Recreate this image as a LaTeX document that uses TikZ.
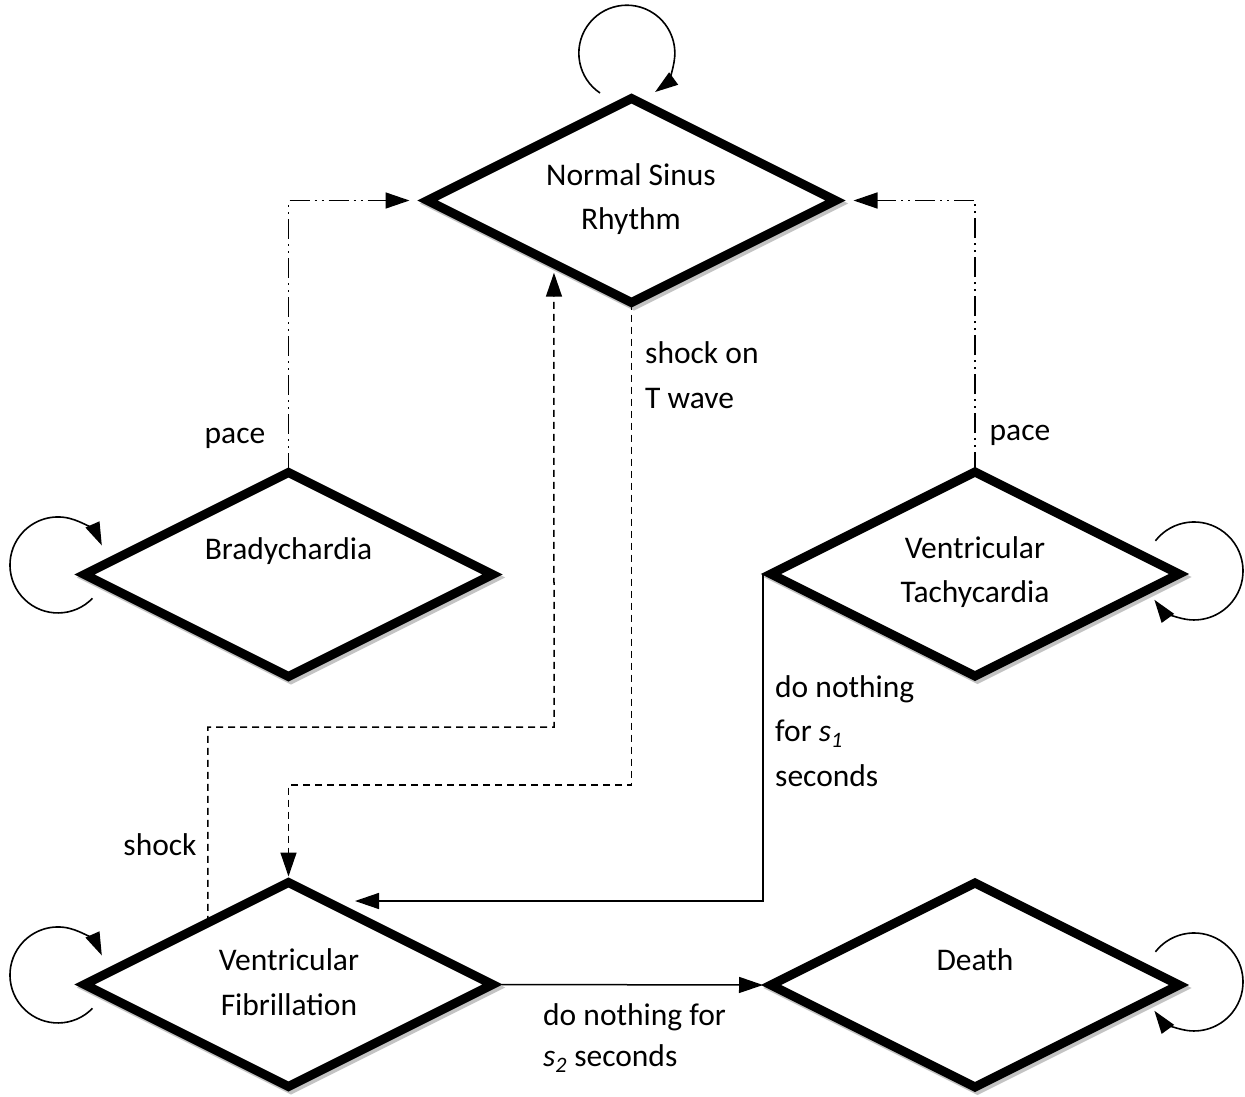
\documentclass[tikz,border=0pt]{standalone}
\usepackage{fontspec}
\setmainfont{Carlito}
\usetikzlibrary{shapes.geometric,arrows.meta,calc}
\definecolor{shadowgray}{RGB}{195,195,195}
\tikzset{
  state/.style={diamond, draw=black, line width=9pt, fill=white,
    minimum width=408pt, minimum height=204pt, inner sep=0pt, outer sep=0pt, shape aspect=2},
  stateshadow/.style={diamond, draw=shadowgray, fill=shadowgray, line width=9pt,
    minimum width=408pt, minimum height=204pt, inner sep=0pt, outer sep=0pt, shape aspect=2},
  txt/.style={font=\fontsize{31.5}{44.5}\selectfont, align=center, inner sep=0pt},
  txtl/.style={font=\fontsize{31.5}{44.5}\selectfont, align=left, inner sep=0pt, anchor=west},
  tip/.style={-{Triangle[length=24pt,width=16pt]}},
  paceline/.style={tip, line width=1.5pt, dash pattern=on 20pt off 5pt on 2pt off 5pt on 2pt off 5pt},
  shockline/.style={tip, line width=1.5pt, dash pattern=on 7pt off 5pt},
  solidline/.style={tip, line width=1.5pt},
  loopline/.style={-{Triangle[length=23pt,width=15pt]}, line width=1.6pt}
}
\begin{document}
\begin{tikzpicture}[x=1pt,y=-1pt]
\useasboundingbox[fill=white] (0,0) rectangle (1245,1097);
% shadows
\node[stateshadow] (nsrsh) at (634,203.5) {};
\node[stateshadow] (bradysh) at (291,577.5) {};
\node[stateshadow] (vtsh) at (977.5,577) {};
\node[stateshadow] (vfsh) at (291,987.5) {};
\node[stateshadow] (deathsh) at (977.5,988) {};
% states
\node[state] (nsr) at (631.5,200.5) {};
\node[state] (brady) at (288.5,574.5) {};
\node[state] (vt) at (975,574) {};
\node[state] (vf) at (288.5,984.5) {};
\node[state] (death) at (975,985) {};
% state texts
\node[txt] (nsrlab) at (631,199) {Normal Sinus\\Rhythm};
\node[txt] (bradylab) at (288.5,551) {Bradychardia};
\node[txt] (vtlab) at (975,572) {Ventricular\\Tachycardia};
\node[txt] (vflab) at (289,982) {Ventricular\\Fibrillation};
\node[txt] (deathlab) at (975,960) {Death};
% connector labels
\node[txt] (pace1) at (235,438) {pace};
\node[txt] (pace2) at (1020,435) {pace};
\node[txtl] (shockT) at (645,375) {shock on\\T wave};
\node[txt] (shocklab) at (160,845) {shock};
\node[txtl] (dn1) at (775,731) {do nothing\\for \textit{s\textsubscript{1}}\\seconds};
\node[txtl, font=\fontsize{31.5}{41}\selectfont] (dn2) at (543,1038) {do nothing for\\\textit{s\textsubscript{2}} seconds};
% helper coordinates
\coordinate (vfs) at ($(vf.west)!0.605!(vf.north)$);
\coordinate (nsrs) at ($(nsr.west)!0.62!(nsr.south)$);
\coordinate (c1) at (554,727);
\coordinate (c2) at (631.5,785);
\coordinate (c3) at (355,901);
% connectors
\draw[paceline, shorten >=18pt] (brady.north) |- (nsr.west);
\draw[paceline, shorten >=18pt] (vt.north) |- (nsr.east);
\draw[shockline, shorten >=9pt] (vfs) |- (c1) -- (nsrs);
\draw[shockline, shorten >=6pt] (nsr.south) -- (c2) -| (vf.north);
\draw[solidline] ($(vt.west)+(-8,0)$) |- (c3);
\draw[solidline] ($(vf.east)+(9,0)$) -- ($(death.west)+(-8,0)$);
% self loops
\draw[loopline] ($(nsr.north)+(-31.5,-5.5)$) arc[start angle=124, end angle=414, radius=48];
\draw[loopline] ($(brady.west)+(8,23.8)$) arc[start angle=44, end angle=336, radius=48];
\draw[loopline] ($(vf.west)+(8,23.8)$) arc[start angle=44, end angle=336, radius=48];
\draw[loopline] ($(vt.east)+(-23.6,-33.2)$) arc[start angle=-142, end angle=144, radius=49];
\draw[loopline] ($(death.east)+(-23.6,-33.2)$) arc[start angle=-142, end angle=144, radius=49];
\end{tikzpicture}
\end{document}
